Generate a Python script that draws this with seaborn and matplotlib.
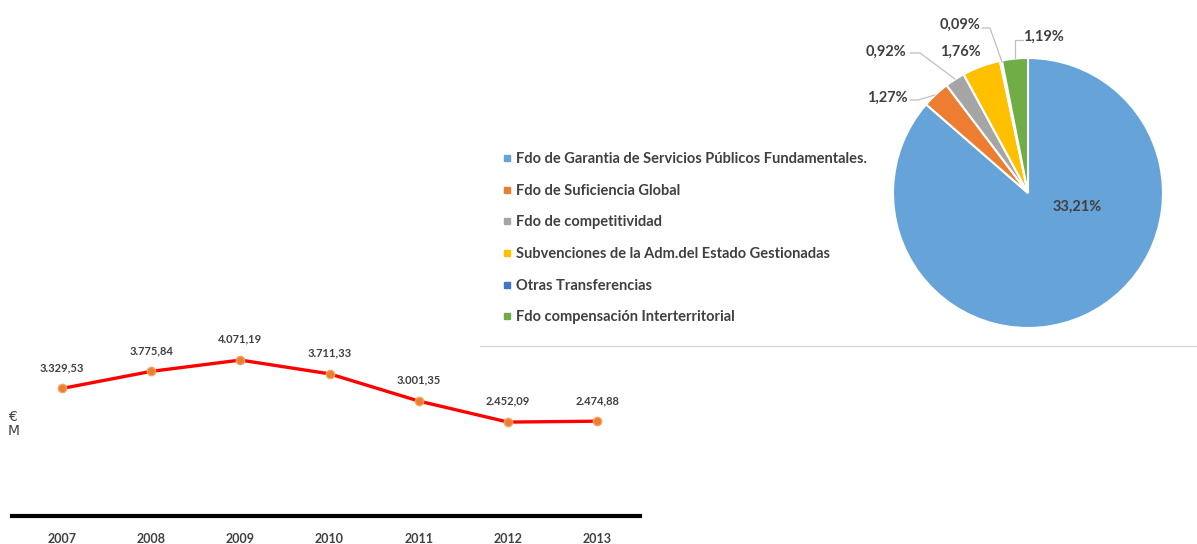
import numpy as np
import pandas as pd
import matplotlib
matplotlib.use("Agg")
import matplotlib.pyplot as plt
from matplotlib.lines import Line2D
import seaborn as sns

# ---------------- data ----------------
years = ["2007", "2008", "2009", "2010", "2011", "2012", "2013"]
amounts = [3329.53, 3775.84, 4071.19, 3711.33, 3001.35, 2452.09, 2474.88]
amount_labels = ["3.329,53", "3.775,84", "4.071,19", "3.711,33", "3.001,35", "2.452,09", "2.474,88"]

pie_categories = [
    "Fdo de Garantia de Servicios Públicos Fundamentales.",
    "Fdo de Suficiencia Global",
    "Fdo de competitividad",
    "Subvenciones de la Adm.del Estado Gestionadas",
    "Otras Transferencias",
    "Fdo compensación Interterritorial",
]
pie_values = [33.21, 1.27, 0.92, 1.76, 0.09, 1.19]
pie_labels = ["33,21%", "1,27%", "0,92%", "1,76%", "0,09%", "1,19%"]
pie_colors = ["#66A3D9", "#ED7D31", "#A5A5A5", "#FFC000", "#4472C4", "#70AD47"]

# ---------------- style ----------------
sns.set_style("white")
plt.rcParams["font.family"] = ["Lato", "DejaVu Sans"]
TXT = "#404040"

W, H = 1197, 544
fig = plt.figure(figsize=(W / 100, H / 100), dpi=100)


def fx(px):
    return px / W


def fy(py):
    return 1 - py / H


# ---------------- line chart ----------------
ax = fig.add_axes([fx(12), fy(516), fx(640) - fx(12), fy(330) - fy(516)])
df = pd.DataFrame({"pos": np.arange(len(years)), "amount": amounts})
sns.lineplot(data=df, x="pos", y="amount", ax=ax, color="#FF0000", linewidth=2.4,
             marker="o", markersize=6, markerfacecolor="#ED7D31",
             markeredgecolor="#F4A460", markeredgewidth=1.0)
ax.set_xlim(-0.56, 6.48)
ax.set_ylim(0, 4856)
ax.set_xticks(np.arange(len(years)))
ax.set_xticklabels(years, fontsize=9, fontweight="bold", color=TXT)
ax.tick_params(axis="x", length=0, pad=12)
ax.set_yticks([])
ax.set_xlabel("")
ax.set_ylabel("")
for s in ["top", "left", "right"]:
    ax.spines[s].set_visible(False)
ax.spines["bottom"].set_linewidth(3)
ax.spines["bottom"].set_color("black")
ax.patch.set_alpha(0)
for i, (v, lab) in enumerate(zip(amounts, amount_labels)):
    ax.annotate(lab, (i, v), xytext=(0, 15), textcoords="offset points",
                ha="center", va="center", fontsize=8, fontweight="bold", color=TXT)

fig.text(fx(8), fy(417), "€", fontsize=10, color=TXT, ha="left", va="center",
         family=["DejaVu Sans"])
fig.text(fx(8), fy(431), "M", fontsize=10, color=TXT, ha="left", va="center",
         family=["DejaVu Sans"])

# ---------------- pie chart ----------------
cx, cy, R = 1028, 193, 135
pax = fig.add_axes([fx(cx - R), fy(cy + R), fx(2 * R), fy(cy - R) - fy(cy + R)])
pax.pie(pie_values, colors=pie_colors, startangle=90, counterclock=False,
        wedgeprops=dict(edgecolor="white", linewidth=1.5))
pax.set_xlim(-1, 1)
pax.set_ylim(-1, 1)
pax.set_aspect("auto")

label_pos = [(1077, 207), (887, 98), (886, 52), (960, 52), (960, 25), (1043, 37)]
for (px, py), lab in zip(label_pos, pie_labels):
    fig.text(fx(px), fy(py), lab, ha="center", va="center", fontsize=10.5,
             fontweight="bold", color=TXT)

leaders = [
    [(910, 100), (918, 100), (935, 95)],
    [(910, 53), (920, 53), (955, 79)],
    [(982, 28), (990, 28), (1002, 62)],
    [(1023, 40), (1015, 40), (1015, 58)],
]
for pts in leaders:
    xs = [fx(p[0]) for p in pts]
    ys = [fy(p[1]) for p in pts]
    fig.add_artist(Line2D(xs, ys, color="#BFBFBF", linewidth=0.9, transform=fig.transFigure))

# legend
handles = [Line2D([], [], marker="s", linestyle="", color=c, markersize=5) for c in pie_colors]
leg = fig.legend(handles, pie_categories, loc="upper left",
                 bbox_to_anchor=(fx(488), fy(139)), frameon=False,
                 handlelength=0.8, handletextpad=0.25, labelspacing=1.21,
                 prop=dict(size=10.5, weight="bold"))
for t in leg.get_texts():
    t.set_color(TXT)

# separator line under the pie chart area
fig.add_artist(Line2D([fx(480), fx(1197)], [fy(346), fy(346)], color="#D9D9D9",
                      linewidth=1, transform=fig.transFigure))

fig.savefig("out.png", dpi=100)
